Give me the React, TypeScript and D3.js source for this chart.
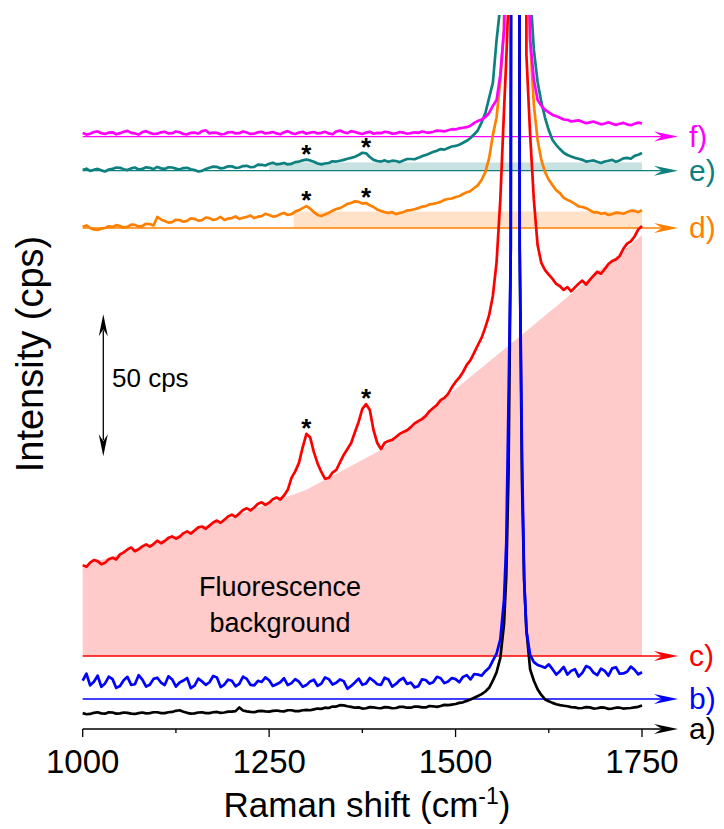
import React from 'react';
import * as d3 from 'd3';

// Raman shift grid (cm^-1)
const shifts = [
  1000, 1005, 1010, 1015, 1020, 1025, 1030, 1035, 1040, 1045, 1050, 1055, 1060, 1065, 1070, 1075, 1080, 1085, 1090, 1095,
  1100, 1105, 1110, 1115, 1120, 1125, 1130, 1135, 1140, 1145, 1150, 1155, 1160, 1165, 1170, 1175, 1180, 1185, 1190, 1195,
  1200, 1205, 1210, 1215, 1220, 1225, 1230, 1235, 1240, 1245, 1250, 1255, 1260, 1265, 1270, 1275, 1280, 1285, 1290, 1295,
  1300, 1305, 1310, 1315, 1320, 1325, 1330, 1335, 1340, 1345, 1350, 1355, 1360, 1365, 1370, 1375, 1380, 1385, 1390, 1395,
  1400, 1405, 1410, 1415, 1420, 1425, 1430, 1435, 1440, 1445, 1450, 1455, 1460, 1465, 1470, 1475, 1480, 1485, 1490, 1495,
  1500, 1505, 1510, 1515, 1520, 1525, 1530, 1535, 1540,
  1545, 1550, 1555, 1560, 1565, 1568, 1571, 1574, 1576, 1578,
  1580, 1582, 1584, 1586, 1589, 1592, 1595, 1600, 1605, 1610, 1615, 1620,
  1625, 1630, 1635, 1640, 1645, 1650, 1655, 1660, 1665, 1670, 1675, 1680, 1685, 1690, 1695, 1700, 1705, 1710, 1715, 1720,
  1725, 1730, 1735, 1740, 1745, 1750,
];

// intensities (cps) relative to each trace's own baseline
const traceA = [
  5.6, 5.2, 5.3, 5.7, 5.9, 5.5, 5.4, 5.9, 5.8, 5.4, 5.5, 5.8, 5.7, 5.4, 5.3, 5.6, 5.8, 5.5, 5.6, 5.9,
  5.9, 5.6, 5.6, 5.9, 6.0, 6.4, 6.6, 6.1, 5.7, 5.4, 5.5, 5.8, 5.9, 5.6, 5.6, 5.9, 6.0, 5.7, 5.8, 6.1,
  6.1, 6.3, 7.6, 6.5, 6.2, 6.0, 5.9, 6.3, 6.4, 6.2, 6.1, 6.4, 6.5, 6.3, 6.2, 6.6, 6.6, 6.3, 6.3, 6.6,
  6.7, 6.6, 6.9, 7.2, 7.1, 7.5, 7.4, 7.9, 7.9, 8.4, 8.3, 8.0, 7.8, 7.5, 7.6, 7.2, 7.3, 7.7, 7.6, 7.4,
  7.3, 7.7, 7.6, 7.3, 7.4, 7.8, 7.8, 7.5, 7.5, 7.9, 7.9, 7.6, 7.6, 8.1, 8.0, 7.8, 8.1, 8.5, 8.4, 8.6,
  8.8, 9.2, 9.4, 9.9, 10.4, 11.0, 11.6, 12.3, 13.2,
  14.5, 17, 20, 25, 37, 54, 90, 170, 700, 700,
  700, 700, 700, 170, 88, 52, 35, 21, 17, 14, 12, 10.4,
  9.8, 9.2, 8.7, 8.4, 8.2, 8.0, 7.7, 7.6, 7.3, 7.4, 7.7, 7.6, 7.2, 7.3, 7.6, 7.5, 7.1, 7.2, 7.5, 7.5,
  7.2, 7.3, 7.4, 7.6, 7.8, 8.3,
];
const traceB = [
  6.5, 8.9, 4.8, 6.1, 8.2, 4.3, 5.5, 7.9, 7.0, 3.9, 4.6, 6.6, 7.8, 5.0, 5.2, 8.4, 6.8, 4.4, 5.0, 7.1,
  7.5, 5.8, 4.9, 8.0, 6.9, 4.4, 5.8, 6.5, 7.4, 3.8, 4.7, 7.2, 6.2, 5.0, 5.9, 8.1, 7.6, 4.2, 5.1, 6.8,
  6.4, 4.5, 5.3, 7.9, 7.1, 5.0, 4.8, 6.4, 6.0, 7.6, 6.6, 4.6, 5.2, 5.9, 7.3, 4.9, 5.6, 7.0, 6.1, 4.3,
  4.9, 6.2, 6.8, 4.6, 5.4, 7.6, 7.0, 5.1, 5.7, 6.9, 6.3, 3.6, 4.6, 5.8, 7.2, 5.0, 5.5, 7.4, 6.4, 5.2,
  5.0, 7.5, 6.9, 4.4, 5.3, 6.6, 7.4, 5.3, 5.8, 4.1, 4.5, 6.9, 6.7, 5.4, 5.9, 7.8, 7.3, 5.6, 6.2, 7.4,
  7.0, 5.9, 7.8, 8.4, 6.9, 8.8, 8.6, 8.2, 9.8,
  11, 13.5, 16, 21, 35, 55, 105, 158, 700, 700,
  700, 700, 700, 158, 88, 42, 24, 15.5, 13, 12, 11.5, 11,
  12.2, 10.5, 8.6, 9.8, 11.3, 8.6, 9.9, 10.5, 7.9, 9.2, 11.6, 11.0, 9.3, 8.4, 10.7, 9.9, 8.2, 10.8, 11.2, 8.9,
  9.0, 9.6, 11.4, 10.3, 8.7, 9.4,
];
const traceC = [
  32.0, 31.4, 32.9, 33.8, 33.4, 32.3, 32.8, 34.1, 34.6, 34.0, 35.8, 36.5, 37.5, 38.2, 36.9, 37.6, 38.6, 39.3, 38.5, 39.4,
  40.6, 39.7, 40.5, 41.6, 42.1, 41.3, 42.0, 43.2, 43.9, 43.1, 44.2, 45.3, 45.6, 44.8, 45.9, 47.0, 47.7, 46.9, 48.0, 49.1,
  49.8, 49.0, 50.2, 51.4, 52.0, 51.3, 52.3, 53.6, 54.1, 53.2, 54.0, 55.2, 55.8, 55.1, 56.5, 58.5, 62.7, 65.0, 68.0, 73.5,
  78.2, 77.0, 71.8, 67.8, 64.8, 62.4, 62.7, 64.6, 65.5, 68.2, 70.8, 72.9, 75.0, 78.8, 82.4, 87.0, 88.7, 86.6, 79.5, 75.0,
  72.9, 75.1, 75.7, 76.1, 77.1, 78.2, 78.9, 79.5, 80.6, 81.9, 82.7, 83.4, 84.5, 86.2, 87.3, 88.4, 90.1, 90.9, 92.3, 94.6,
  96.5, 98.0, 100.0, 102.5, 104.2, 106.8, 109.5, 112.1, 115.8,
  120, 126.8, 138.7, 160.6, 192.3, 210, 232, 700, 700, 700,
  700, 700, 700, 700, 700, 700, 211.6, 183.5, 160.6, 144.7, 138.4, 135.9,
  134.3, 132.8, 131.0, 130.2, 128.9, 129.9, 128.4, 129.8, 131.1, 132.2, 130.8, 132.4, 133.9, 135.3, 134.6, 136.2, 138.0, 139.1, 139.6, 140.8,
  143.4, 145.2, 146.0, 147.7, 150.2, 151.4,
];
const traceD = [
  0.4, 0.9, 0.0, -0.5, -0.7, -0.2, 0.0, 0.6, 0.4, 1.0, 0.7, 0.2, 0.4, 1.2, 1.1, 0.5, 0.7, 1.5, 1.4, 0.9,
  3.9, 3.0, 2.5, 1.9, 2.1, 2.9, 2.8, 2.2, 2.5, 3.4, 3.2, 2.6, 2.8, 3.7, 3.5, 2.8, 3.2, 3.9, 2.8, 3.3,
  3.5, 4.1, 3.2, 3.6, 3.9, 4.4, 3.5, 4.0, 4.2, 5.0, 4.6, 4.0, 4.2, 4.9, 5.3, 4.6, 4.9, 5.8, 6.3, 7.0,
  7.7, 6.8, 5.6, 4.6, 4.2, 4.8, 5.3, 6.1, 6.7, 7.0, 7.7, 8.5, 8.8, 9.4, 9.2, 8.6, 8.8, 8.0, 7.4, 6.5,
  6.0, 5.6, 5.3, 5.6, 4.9, 5.3, 5.6, 6.2, 6.3, 6.6, 7.0, 7.5, 7.7, 8.3, 8.5, 8.8, 9.2, 9.9, 10.2, 10.4,
  10.9, 11.2, 12.0, 12.6, 13.0, 14.1, 15.1, 17.0, 19.7,
  24.6, 32.7, 39, 52, 70, 200, 300, 300, 300, 300,
  300, 300, 300, 300, 300, 300, 110, 66, 43.3, 31, 24, 19.7,
  17.0, 15.1, 13.3, 12.3, 10.6, 9.9, 9.3, 8.5, 7.6, 7.4, 7.0, 6.3, 5.5, 5.6, 5.0, 5.3, 4.6, 4.9, 5.4, 5.3,
  5.0, 5.6, 6.1, 6.0, 5.6, 6.3,
];
const traceE = [
  0.2, 0.7, -0.1, 0.3, 0.6, 0.1, -0.3, 0.4, 0.6, 1.1, 1.0, 0.5, 0.2, 0.8, 1.1, 0.4, 0.6, 1.2, 1.0, 0.5,
  1.3, 0.8, 0.6, 1.2, 1.1, 0.7, 0.4, 0.9, 1.0, 0.5, 0.2, -0.3, -0.1, 0.6, 1.0, 1.4, 1.3, 0.8, 1.0, 1.5,
  1.5, 1.0, 1.1, 1.6, 1.7, 1.2, 1.3, 2.1, 2.0, 1.8, 2.4, 2.8, 2.2, 2.4, 2.7, 2.2, 2.4, 3.0, 3.2, 3.6,
  3.9, 3.6, 3.1, 2.5, 2.2, 2.5, 2.7, 3.3, 3.2, 3.5, 3.8, 4.2, 4.5, 4.9, 5.5, 6.3, 6.1, 4.8, 3.8, 3.4,
  3.2, 3.6, 3.1, 3.5, 3.4, 3.0, 3.6, 4.1, 4.1, 4.0, 4.5, 5.1, 5.5, 6.0, 6.6, 7.0, 7.6, 7.4, 8.0, 8.5,
  8.7, 9.1, 9.8, 10.5, 11.5, 12.8, 14.3, 17.0, 20.3,
  25.6, 30.9, 46, 58, 300, 300, 300, 300, 300, 300,
  300, 300, 300, 300, 300, 300, 300, 63.6, 42.5, 31.2, 24.2, 18.6,
  14.2, 10.8, 9.0, 7.6, 6.3, 5.5, 5.0, 4.5, 4.2, 3.8, 3.2, 3.4, 3.6, 3.1, 2.7, 3.2, 3.5, 3.8, 3.1, 3.6,
  4.3, 4.5, 4.2, 5.2, 5.6, 6.2,
];
const traceF = [
  1.3, 0.7, 1.0, 1.6, 1.8, 1.2, 0.9, 1.4, 1.5, 0.8, 1.2, 1.7, 2.0, 1.3, 1.1, 0.7, 1.6, 1.9, 1.3, 0.9,
  1.0, 1.5, 1.7, 1.1, 1.2, 1.8, 1.5, 0.9, 0.8, 1.3, 1.4, 1.0, 1.9, 2.2, 1.1, 1.4, 1.3, 0.8, 0.9, 1.5,
  1.6, 1.1, 1.2, 1.8, 1.4, 0.9, 1.0, 1.5, 1.7, 1.1, 1.3, 1.6, 1.1, 0.8, 1.5, 1.9, 1.2, 0.9, 1.4, 1.7,
  1.0, 1.4, 1.6, 1.1, 1.3, 1.7, 1.1, 0.8, 1.8, 2.1, 1.5, 1.2, 1.9, 1.6, 1.2, 0.9, 1.4, 1.7, 1.0, 1.3,
  1.2, 1.7, 1.5, 1.0, 1.1, 1.6, 1.4, 1.0, 1.2, 1.5, 1.3, 1.8, 1.5, 1.4, 1.7, 2.1, 2.0, 1.8, 2.2, 2.6,
  2.5, 2.9, 3.1, 3.3, 3.8, 4.8, 5.5, 6.0, 6.9,
  8.3, 10.8, 12.9, 21.7, 37.6, 80, 300, 300, 300, 300,
  300, 300, 300, 300, 300, 300, 100, 34, 20, 12.9, 10.8, 9.4,
  8.5, 7.6, 7.2, 6.6, 6.0, 5.9, 5.3, 5.5, 5.7, 5.2, 4.7, 5.0, 5.3, 4.8, 4.3, 4.6, 5.0, 4.5, 4.1, 4.5,
  4.8, 4.3, 4.0, 4.5, 4.9, 4.6,
];

// vertical offsets (cps) of each trace's baseline
const traceLabels = ['a)', 'b)', 'c)', 'd)', 'e)', 'f)'];
const traceOffsets = [0, 10.56, 25.7, 176.4, 196.6, 208.6];
const traceValues = [traceA, traceB, traceC, traceD, traceE, traceF];
const traceColors = ['#000000', '#0000ff', '#ff0000', '#ff8000', '#0f8080', '#ff00ff'];
const drawOrder = [2, 3, 4, 5, 0, 1];

// fluorescence background under trace c (cps above c baseline)
const bgShifts = [1000, 1100, 1200, 1300, 1400, 1500, 1600, 1700, 1750];
const bgCps = [31.7, 40.1, 48.9, 58.5, 72.5, 94.0, 115.5, 137.3, 148.2];

// shaded bands above baselines of d and e
const bandTraces = [3, 4];
const bandStart = [1283, 1250];
const bandHeight = [5.8, 2.9];
const bandColors = ['#ffe2c8', '#c8e2e2'];

// asterisk-marked peaks
const starShifts = [1300, 1380];
const starTraces = [2, 3, 4];

const xTicksMajor = [1000, 1250, 1500, 1750];
const xTicksMinor = [1125, 1375, 1625];

const scaleBarCps = 50;
const scaleBarBottom = 96;

const FONT = "'Liberation Sans', Arial, Helvetica, sans-serif";

function arrowHead(tx: number, ty: number, dir: 'right' | 'up' | 'down', L = 24, hw = 5, notch = 8) {
  if (dir === 'right') {
    return `M${tx},${ty}L${tx - L},${ty - hw}L${tx - L + notch},${ty}L${tx - L},${ty + hw}Z`;
  }
  if (dir === 'up') {
    return `M${tx},${ty}L${tx - hw},${ty + L}L${tx},${ty + L - notch}L${tx + hw},${ty + L}Z`;
  }
  return `M${tx},${ty}L${tx - hw},${ty - L}L${tx},${ty - L + notch}L${tx + hw},${ty - L}Z`;
}

export default function App() {
  const W = 724;
  const H = 829;
  const x = d3.scaleLinear().domain([1000, 1750]).range([82.7, 642]);
  const y = d3.scaleLinear().domain([0, 251.4]).range([729, 15]);
  const tipX = 678;

  const n = shifts.length;
  const pathFor = (idx: number) => {
    const vals = traceValues[idx];
    const off = traceOffsets[idx];
    const pts: [number, number][] = [];
    for (let i = 0; i < Math.min(n, vals.length); i++) pts.push([shifts[i], vals[i] + off]);
    return d3.line<[number, number]>().x((d) => x(d[0])).y((d) => y(d[1]))(pts) || '';
  };

  const bgArea =
    d3
      .area<number>()
      .x((_, i) => x(bgShifts[i]))
      .y0(() => y(traceOffsets[2]))
      .y1((v) => y(v + traceOffsets[2]))(bgCps) || '';

  const valueAt = (idx: number, s: number) => {
    const i = shifts.indexOf(s);
    return traceValues[idx][i] + traceOffsets[idx];
  };

  const sbX = 103.3;
  const sbY0 = y(scaleBarBottom);
  const sbY1 = y(scaleBarBottom + scaleBarCps);

  return (
    <svg
      width={W}
      height={H}
      viewBox={`0 0 ${W} ${H}`}
      style={{ position: 'absolute', left: 0, top: 0, display: 'block', background: '#fff' }}
      fontFamily={FONT}
    >
      <defs>
        <clipPath id="plotClip">
          <rect x={0} y={15} width={W} height={H - 15} />
        </clipPath>
      </defs>
      <rect x={0} y={0} width={W} height={H} fill="#ffffff" />

      {/* fluorescence background */}
      <path d={bgArea} fill="#ffcaca" stroke="none" />

      {/* bands */}
      {bandTraces.map((ti, k) => (
        <rect
          key={`band${k}`}
          x={x(bandStart[k])}
          width={x(1750) - x(bandStart[k])}
          y={y(traceOffsets[ti] + bandHeight[k])}
          height={y(traceOffsets[ti]) - y(traceOffsets[ti] + bandHeight[k])}
          fill={bandColors[k]}
        />
      ))}

      {/* baseline arrows (b..f) */}
      {traceOffsets.map((off, i) => {
        if (i === 0) return null;
        const yy = y(off);
        return (
          <g key={`arr${i}`}>
            <line x1={x(1000)} x2={tipX - 16} y1={yy} y2={yy} stroke={traceColors[i]} strokeWidth={1.3} />
            <path d={arrowHead(tipX, yy, 'right')} fill={traceColors[i]} />
          </g>
        );
      })}

      {/* traces */}
      <g clipPath="url(#plotClip)">
        {drawOrder.map((i) => (
          <path
            key={`tr${i}`}
            d={pathFor(i)}
            fill="none"
            stroke={traceColors[i]}
            strokeWidth={2.7}
            strokeLinejoin="round"
          />
        ))}
      </g>

      {/* asterisks */}
      {starTraces.map((ti) =>
        starShifts.map((s) => (
          <text
            key={`st${ti}-${s}`}
            x={x(s)}
            y={y(valueAt(ti, s)) + 3}
            textAnchor="middle"
            fontSize={26}
            fontWeight="bold"
            fill="#000"
          >
            *
          </text>
        ))
      )}

      {/* x axis */}
      <line x1={x(1000)} x2={tipX - 16} y1={y(0)} y2={y(0)} stroke="#000" strokeWidth={1.3} />
      <path d={arrowHead(tipX, y(0), 'right')} fill="#000" />
      {xTicksMajor.map((t) => (
        <g key={`tk${t}`}>
          <line x1={x(t)} x2={x(t)} y1={y(0)} y2={y(0) + 8} stroke="#000" strokeWidth={1.3} />
          <text x={x(t)} y={773} textAnchor="middle" fontSize={33} fill="#000">
            {t}
          </text>
        </g>
      ))}
      {xTicksMinor.map((t) => (
        <line key={`mk${t}`} x1={x(t)} x2={x(t)} y1={y(0)} y2={y(0) + 4} stroke="#000" strokeWidth={1.3} />
      ))}

      {/* trace labels */}
      {traceLabels.map((lab, i) => (
        <text key={`lab${i}`} x={689} y={y(traceOffsets[i]) + 10} fontSize={30} fill={traceColors[i]}>
          {lab}
        </text>
      ))}

      {/* axis titles */}
      <text x={367} y={817} textAnchor="middle" fontSize={35} fill="#000">
        Raman shift (cm
        <tspan dy={-13} fontSize={23}>
          -1
        </tspan>
        <tspan dy={13}>)</tspan>
      </text>
      <text transform={`translate(43,354) rotate(-90)`} textAnchor="middle" fontSize={38} fill="#000">
        Intensity (cps)
      </text>

      {/* scale bar */}
      <line x1={sbX} x2={sbX} y1={sbY1 + 16} y2={sbY0 - 16} stroke="#000" strokeWidth={1.3} />
      <path d={arrowHead(sbX, sbY1, 'up', 22, 4.5, 7)} fill="#000" />
      <path d={arrowHead(sbX, sbY0, 'down', 22, 4.5, 7)} fill="#000" />
      <text x={112} y={387} fontSize={26} fill="#000">
        50 cps
      </text>

      {/* fluorescence label */}
      <text x={280} y={596} textAnchor="middle" fontSize={27} fill="#000">
        Fluorescence
      </text>
      <text x={280} y={632} textAnchor="middle" fontSize={27} fill="#000">
        background
      </text>
    </svg>
  );
}
